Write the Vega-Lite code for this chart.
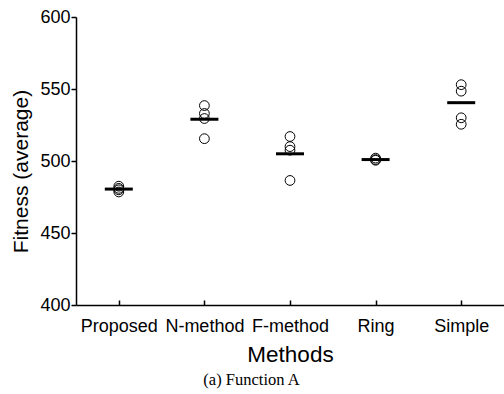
{
  "$schema": "https://vega.github.io/schema/vega-lite/v6.json",
  "autosize": "none",
  "width": 428,
  "height": 288,
  "padding": {"left": 76, "top": 17, "right": 0, "bottom": 89},
  "background": "white",
  "title": {"text": "(a) Function A", "orient": "bottom", "frame": "bounds", "anchor": "middle", "font": "Liberation Serif", "fontSize": 16.5, "fontWeight": "normal", "color": "black", "offset": 6, "dx": -6},
  "datasets": {
    "runs": [
      {"method": "Proposed", "fitness": 482.5},
      {"method": "Proposed", "fitness": 481},
      {"method": "Proposed", "fitness": 480},
      {"method": "Proposed", "fitness": 478.5},
      {"method": "N-method", "fitness": 538.5},
      {"method": "N-method", "fitness": 533},
      {"method": "N-method", "fitness": 529.5},
      {"method": "N-method", "fitness": 515.5},
      {"method": "F-method", "fitness": 517},
      {"method": "F-method", "fitness": 510},
      {"method": "F-method", "fitness": 507.5},
      {"method": "F-method", "fitness": 486.5},
      {"method": "Ring", "fitness": 502},
      {"method": "Ring", "fitness": 501},
      {"method": "Ring", "fitness": 500.5},
      {"method": "Simple", "fitness": 553},
      {"method": "Simple", "fitness": 548.5},
      {"method": "Simple", "fitness": 530},
      {"method": "Simple", "fitness": 525.5}
    ],
    "means": [
      {"method": "Proposed", "mean": 480.5},
      {"method": "N-method", "mean": 529},
      {"method": "F-method", "mean": 505},
      {"method": "Ring", "mean": 501},
      {"method": "Simple", "mean": 540.5}
    ]
  },
  "config": {
    "view": {"stroke": null},
    "axis": {"labelFont": "Liberation Sans", "titleFont": "Liberation Sans", "labelColor": "black", "titleColor": "black", "domainColor": "black", "tickColor": "black", "grid": false, "titleFontWeight": "normal"}
  },
  "layer": [
    {
      "data": {"name": "runs"},
      "mark": {"type": "point", "shape": "circle", "filled": false, "stroke": "black", "strokeWidth": 1, "size": 95, "opacity": 1},
      "encoding": {
        "x": {"field": "method", "type": "nominal", "sort": ["Proposed", "N-method", "F-method", "Ring", "Simple"],
              "scale": {"type": "point", "padding": 0.5},
              "axis": {"title": "Methods", "titleFontSize": 22.5, "titlePadding": 8, "labelFontSize": 18, "labelAngle": 0, "domainWidth": 1.5, "tickSize": -5, "tickWidth": 1.5, "labelPadding": 17}},
        "y": {"field": "fitness", "type": "quantitative",
              "scale": {"domain": [400, 600], "nice": false, "zero": false},
              "axis": {"title": "Fitness (average)", "titleFontSize": 21, "titlePadding": 8, "titleY": 154, "labelFontSize": 18, "domainWidth": 1.5, "tickWidth": 1.5,
                       "values": [400, 425, 450, 475, 500, 525, 550, 575, 600],
                       "labelExpr": "datum.value % 50 === 0 ? datum.label : ''",
                       "tickSize": {"condition": {"test": "datum.value % 50 === 0", "value": 5}, "value": -4},
                       "labelPadding": 1}}
      }
    },
    {
      "data": {"name": "means"},
      "mark": {"type": "tick", "orient": "horizontal", "color": "black", "thickness": 3, "size": 28, "opacity": 1},
      "encoding": {
        "x": {"field": "method", "type": "nominal", "sort": ["Proposed", "N-method", "F-method", "Ring", "Simple"]},
        "y": {"field": "mean", "type": "quantitative"}
      }
    }
  ]
}
